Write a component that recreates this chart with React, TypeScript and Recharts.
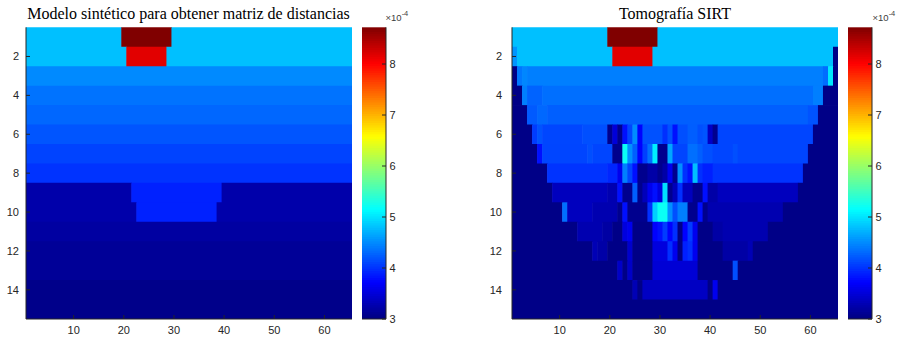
import React from 'react';
import { ScatterChart, Scatter, XAxis, YAxis, ReferenceArea } from 'recharts';

// [fromColumn, toColumn, value ×1e-4] runs along each row
type Run = [number, number, number];

const TITLES = ['Modelo sintético para obtener matriz de distancias', 'Tomografía SIRT'];
const X_TICKS = [10, 20, 30, 40, 50, 60];
const Y_TICKS = [2, 4, 6, 8, 10, 12, 14];
const CBAR_TICKS = [3, 4, 5, 6, 7, 8];
const C_MIN = 3;
const C_MAX = 8.72;
const N_COLS = 65;
const N_ROWS = 15;
const CBAR_STEPS = 128;

// synthetic model
const modelRows: Run[][] = [
  [[1, 19, 4.79], [20, 29, 8.72], [30, 65, 4.79]],
  [[1, 20, 4.79], [21, 28, 8.17], [29, 65, 4.79]],
  [[1, 65, 4.49]],
  [[1, 65, 4.36]],
  [[1, 65, 4.29]],
  [[1, 65, 4.19]],
  [[1, 65, 4.09]],
  [[1, 65, 4.0]],
  [[1, 21, 3.24], [22, 39, 3.9], [40, 65, 3.24]],
  [[1, 22, 3.24], [23, 38, 3.9], [39, 65, 3.24]],
  [[1, 65, 3.19]],
  [[1, 65, 3.13]],
  [[1, 65, 3.13]],
  [[1, 65, 3.06]],
  [[1, 65, 3.06]],
];

// SIRT reconstruction
const sirtRows: Run[][] = [
  [[1, 19, 4.79], [20, 29, 8.72], [30, 65, 4.79]],
  [[1, 1, 4.55], [2, 20, 4.79], [21, 28, 8.17], [29, 64, 4.79], [65, 65, 3.04]],
  [[1, 1, 3.04], [2, 2, 4.38], [3, 3, 4.47], [4, 62, 4.43], [63, 63, 4.33], [64, 64, 5.02], [65, 65, 3.04]],
  [[1, 2, 3.04], [3, 3, 4.43], [4, 6, 4.27], [7, 60, 4.34], [61, 62, 4.43], [63, 65, 3.04]],
  [[1, 3, 3.04], [4, 5, 4.22], [6, 7, 4.3], [8, 59, 4.25], [60, 61, 4.18], [62, 65, 3.04]],
  [[1, 4, 3.04], [5, 5, 4.05], [6, 6, 4.18], [7, 14, 4.11], [15, 19, 4.16], [20, 20, 3.08], [21, 21, 3.5],
    [22, 22, 3.08], [23, 23, 3.8], [24, 24, 4.1], [25, 25, 4.5], [26, 26, 3.72], [27, 30, 4.17], [31, 31, 3.98],
    [32, 32, 4.17], [33, 33, 3.8], [34, 35, 4.16], [36, 37, 4.24], [38, 38, 4.16], [39, 39, 4.19], [40, 40, 3.4],
    [41, 41, 3.08], [42, 60, 4.1], [61, 65, 3.04]],
  [[1, 5, 3.04], [6, 6, 3.8], [7, 15, 4.1], [16, 16, 4.16], [17, 20, 4.1], [21, 22, 3.08], [23, 23, 5.2],
    [24, 24, 4.52], [25, 25, 4.25], [26, 26, 3.72], [27, 27, 4.07], [28, 28, 4.34], [29, 29, 5.05], [30, 31, 3.08],
    [32, 32, 4.65], [33, 35, 4.1], [36, 37, 4.34], [38, 38, 4.25], [39, 40, 4.16], [41, 44, 4.1], [45, 45, 4.16],
    [46, 59, 4.1], [60, 65, 3.04]],
  [[1, 7, 3.04], [8, 19, 4.0], [20, 21, 3.92], [22, 22, 3.62], [23, 23, 4.43], [24, 24, 4.1], [25, 25, 3.8],
    [26, 27, 3.08], [28, 29, 3.22], [30, 30, 3.08], [31, 31, 3.22], [32, 32, 3.62], [33, 33, 3.08], [34, 34, 4.52],
    [35, 35, 3.98], [36, 36, 3.8], [37, 37, 4.79], [38, 38, 3.98], [39, 40, 3.89], [41, 58, 4.0], [59, 65, 3.04]],
  [[1, 8, 3.04], [9, 19, 3.35], [20, 21, 3.27], [22, 22, 3.8], [23, 24, 3.08], [25, 25, 4.25], [26, 26, 3.08],
    [27, 27, 3.33], [28, 28, 3.62], [29, 29, 3.8], [30, 30, 3.53], [31, 31, 4.97], [32, 32, 3.08], [33, 33, 3.33],
    [34, 34, 3.98], [35, 36, 3.35], [37, 38, 3.08], [39, 39, 3.8], [40, 41, 3.22], [42, 57, 3.35], [58, 65, 3.04]],
  [[1, 10, 3.04], [11, 11, 4.34], [12, 16, 3.35], [17, 21, 3.27], [22, 22, 3.08], [23, 23, 3.8], [24, 27, 3.08],
    [28, 28, 3.98], [29, 29, 4.88], [30, 31, 5.2], [32, 32, 4.52], [33, 33, 4.16], [34, 35, 4.43], [36, 37, 3.08],
    [38, 38, 3.8], [39, 39, 3.08], [40, 54, 3.27], [55, 65, 3.04]],
  [[1, 13, 3.04], [14, 18, 3.27], [19, 20, 3.2], [21, 22, 3.04], [23, 23, 3.53], [24, 24, 3.62], [25, 28, 3.04],
    [29, 29, 3.72], [30, 30, 3.8], [31, 31, 4.05], [32, 32, 3.72], [33, 33, 3.98], [34, 34, 3.04], [35, 35, 3.72],
    [36, 36, 4.05], [37, 37, 3.62], [38, 40, 3.04], [41, 42, 3.21], [43, 51, 3.27], [52, 65, 3.04]],
  [[1, 16, 3.04], [17, 17, 3.3], [18, 19, 3.22], [20, 23, 3.04], [24, 24, 3.43], [25, 28, 3.04], [29, 31, 3.53],
    [32, 32, 3.98], [33, 33, 3.62], [34, 34, 3.04], [35, 35, 3.89], [36, 36, 3.98], [37, 37, 3.62], [38, 42, 3.04],
    [43, 47, 3.21], [48, 48, 3.3], [49, 65, 3.04]],
  [[1, 21, 3.04], [22, 22, 3.4], [23, 23, 3.04], [24, 24, 3.4], [25, 28, 3.04], [29, 37, 3.48], [38, 44, 3.04],
    [45, 45, 4.16], [46, 65, 3.04]],
  [[1, 24, 3.04], [25, 25, 3.3], [26, 26, 3.04], [27, 39, 3.38], [40, 40, 3.04], [41, 41, 3.62], [42, 65, 3.04]],
  [[1, 65, 3.04]],
];

const AXIS = '#262626';
const tickFont = { fill: AXIS, fontSize: 11, fontFamily: "'Liberation Sans', Arial, sans-serif" };
const blank = () => '';

// continuous jet colormap
function jet(v: number) {
  const t = Math.min(1, Math.max(0, (v - C_MIN) / (C_MAX - C_MIN)));
  const ch = (c: number) => Math.round(255 * Math.min(1, Math.max(0, 1.5 - Math.abs(4 * t - c))));
  return `rgb(${ch(3)},${ch(2)},${ch(1)})`;
}

// cells overlap their right/lower neighbour slightly so no anti-aliasing seams show
const OVERLAP_X = 0.12;
const OVERLAP_Y = 0.04;

const PANEL_W = 352;
const CBAR_W = 56;
const H = 342;
const TOP = 27.3;
const X_AXIS_H = 23;
const Y_AXIS_W = 26;
const CBAR_AXIS_W = 32;

const layer: React.CSSProperties = { position: 'absolute', left: 0, top: 0 };

function HeatPanel({ rows, left, labelGap }: { rows: Run[][]; left: number; labelGap: number }) {
  const xDom: [number, number] = [0.5, N_COLS + 0.5];
  const yDom: [number, number] = [0.5, N_ROWS + 0.5];
  return (
    <div style={{ position: 'absolute', left, top: 0, width: PANEL_W, height: H }}>
      {/* cells */}
      <div style={layer}>
        <ScatterChart width={PANEL_W} height={H}
          margin={{ top: TOP, right: 0, bottom: X_AXIS_H, left: Y_AXIS_W }}>
          <XAxis xAxisId="b" type="number" dataKey="x" domain={xDom} allowDataOverflow hide />
          <YAxis yAxisId="l" type="number" dataKey="y" reversed domain={yDom} allowDataOverflow hide />
          {rows.flatMap((row, i) =>
            row.map(([from, to, v], j) => (
              <ReferenceArea key={`${i}-${j}`} xAxisId="b" yAxisId="l"
                x1={from - 0.5} x2={Math.min(to + 0.5 + OVERLAP_X, N_COLS + 0.5)}
                y1={i + 0.5} y2={Math.min(i + 1.5 + OVERLAP_Y, N_ROWS + 0.5)}
                fill={jet(v)} fillOpacity={1} stroke="none" />
            ))
          )}
          <Scatter xAxisId="b" yAxisId="l" data={[]} isAnimationActive={false} />
        </ScatterChart>
      </div>
      {/* box with inward ticks, drawn over the cells */}
      <div style={layer}>
        <ScatterChart width={PANEL_W} height={H} margin={{ top: TOP, right: 0, bottom: 0, left: 0 }}>
          <XAxis xAxisId="b" type="number" dataKey="x" domain={xDom} allowDataOverflow
            ticks={X_TICKS} height={X_AXIS_H} tickSize={-4} tickMargin={11} stroke={AXIS} tick={tickFont} />
          <XAxis xAxisId="t" orientation="top" type="number" dataKey="x" domain={xDom} allowDataOverflow
            ticks={X_TICKS} height={0} tickSize={-4} tickFormatter={blank} stroke={AXIS} />
          <YAxis yAxisId="l" type="number" dataKey="y" reversed domain={yDom} allowDataOverflow
            ticks={Y_TICKS} width={Y_AXIS_W} tickSize={-4} tickMargin={labelGap} stroke={AXIS} tick={tickFont} />
          <YAxis yAxisId="r" orientation="right" type="number" dataKey="y" reversed domain={yDom}
            allowDataOverflow ticks={Y_TICKS} width={0} tickSize={-4} tickFormatter={blank} stroke={AXIS} />
          <Scatter xAxisId="b" yAxisId="l" data={[]} isAnimationActive={false} />
          <Scatter xAxisId="t" yAxisId="r" data={[]} isAnimationActive={false} />
        </ScatterChart>
      </div>
    </div>
  );
}

// colour scale, sampled in CBAR_STEPS bands of the colormap
const cbarBands = Array.from({ length: CBAR_STEPS }, (_, k) => {
  const lo = C_MIN + ((C_MAX - C_MIN) * k) / CBAR_STEPS;
  const hi = C_MIN + ((C_MAX - C_MIN) * (k + 1)) / CBAR_STEPS;
  return { lo, hi, color: jet((lo + hi) / 2) };
});

function ColorBar({ left }: { left: number }) {
  const step = (C_MAX - C_MIN) / CBAR_STEPS;
  const cDom: [number, number] = [C_MIN, C_MAX];
  return (
    <div style={{ position: 'absolute', left, top: 0, width: CBAR_W, height: H }}>
      <div style={layer}>
        <ScatterChart width={CBAR_W} height={H}
          margin={{ top: TOP, right: CBAR_AXIS_W, bottom: X_AXIS_H, left: 0 }}>
          <XAxis xAxisId="b" type="number" dataKey="x" domain={[0, 1]} allowDataOverflow hide />
          <YAxis yAxisId="r" type="number" dataKey="y" domain={cDom} allowDataOverflow hide />
          {cbarBands.map((b, k) => (
            <ReferenceArea key={k} xAxisId="b" yAxisId="r" x1={0} x2={1}
              y1={b.lo} y2={Math.min(b.hi + step * 0.6, C_MAX)}
              fill={b.color} fillOpacity={1} stroke="none" />
          ))}
          <Scatter xAxisId="b" yAxisId="r" data={[]} isAnimationActive={false} />
        </ScatterChart>
      </div>
      <div style={layer}>
        <ScatterChart width={CBAR_W} height={H} margin={{ top: TOP, right: 0, bottom: 0, left: 0 }}>
          <XAxis xAxisId="b" type="number" dataKey="x" domain={[0, 1]} allowDataOverflow height={X_AXIS_H}
            tick={false} tickLine={false} stroke={AXIS} />
          <XAxis xAxisId="t" orientation="top" type="number" dataKey="x" domain={[0, 1]} allowDataOverflow
            height={0} tick={false} tickLine={false} stroke={AXIS} />
          <YAxis yAxisId="l" type="number" dataKey="y" domain={cDom} allowDataOverflow width={0}
            tick={false} tickLine={false} stroke={AXIS} />
          <YAxis yAxisId="r" orientation="right" type="number" dataKey="y" domain={cDom} allowDataOverflow
            ticks={CBAR_TICKS} width={CBAR_AXIS_W} tickSize={-4} tickMargin={7.5} stroke={AXIS} tick={tickFont} />
          <Scatter xAxisId="b" yAxisId="r" data={[]} isAnimationActive={false} />
          <Scatter xAxisId="t" yAxisId="l" data={[]} isAnimationActive={false} />
        </ScatterChart>
      </div>
    </div>
  );
}

export default function App() {
  const serif = "'Liberation Serif', 'Times New Roman', serif";
  const sans = "'Liberation Sans', Arial, sans-serif";
  return (
    <div style={{ position: 'absolute', left: 0, top: 0, width: 903, height: H, background: '#fff' }}>
      <HeatPanel rows={modelRows} left={0} labelGap={11} />
      <ColorBar left={361.7} />
      <HeatPanel rows={sirtRows} left={486.3} labelGap={14} />
      <ColorBar left={848.3} />
      <svg width={903} height={H} style={{ position: 'absolute', left: 0, top: 0, pointerEvents: 'none' }}>
        <text x={188.5} y={19} textAnchor="middle" fontFamily={serif} fontSize={16} fill="#000">{TITLES[0]}</text>
        <text x={675} y={19} textAnchor="middle" fontFamily={serif} fontSize={16} fill="#000">{TITLES[1]}</text>
        {[385.5, 872.5].map((x) => (
          <text key={x} x={x} y={21} fontFamily={sans} fontSize={9.5} fill="#404040">
            ×10<tspan dy={-5} fontSize={7.5}>-4</tspan>
          </text>
        ))}
      </svg>
    </div>
  );
}
